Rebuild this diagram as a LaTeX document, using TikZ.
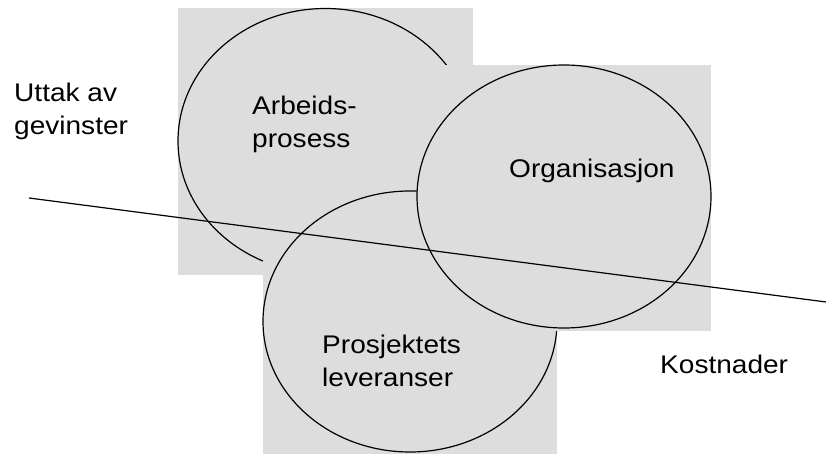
\documentclass[tikz,border=0pt]{standalone}
\usepackage{fontspec}
\setmainfont{Liberation Sans}
\newfontfamily\labelfont[FakeStretch=1.1]{Liberation Sans}
\definecolor{panel}{RGB}{221,221,221}
\tikzset{
  panel/.style={fill=panel, draw=none},
  ring/.style={draw=black, line width=1.2pt},
  divider/.style={draw=black, line width=1.2pt},
  lbl/.style={anchor=base west, inner sep=0pt, font=\labelfont\fontsize{25.5}{33}\selectfont},
}
\newcommand{\twolines}[2]{\begin{tabular}[t]{@{}l@{}}#1\\#2\end{tabular}}
\begin{document}
\begin{tikzpicture}[x=1pt, y=-1pt]
  \useasboundingbox (0,0) rectangle (826,454);

  % Arbeidsprosess
  \fill[panel] (178,8) rectangle (473,275);
  \draw[ring] (325.5,141) ellipse [x radius=147.5, y radius=132.5];
  % Prosjektets leveranser
  \fill[panel] (263,188) rectangle (557,454);
  \draw[ring] (410,321.5) ellipse [x radius=147, y radius=130.5];
  % Organisasjon
  \fill[panel] (417,65) rectangle (711,331);
  \draw[ring] (564,196.5) ellipse [x radius=147, y radius=131.5];

  % dividing line between gains and costs
  \coordinate (lstart) at (29,198);
  \coordinate (lend) at (826,302);
  \draw[divider] (lstart) -- (lend);

  % labels
  \node[lbl] (gevinst) at (14,102) {\twolines{Uttak av}{gevinster}};
  \node[lbl] (arbeid) at (252,115) {\twolines{Arbeids-}{prosess}};
  \node[lbl] (org) at (509,178) {Organisasjon};
  \node[lbl] (prosj) at (322,353) {\twolines{Prosjektets}{leveranser}};
  \node[lbl] (kost) at (660,373) {Kostnader};
\end{tikzpicture}
\end{document}
